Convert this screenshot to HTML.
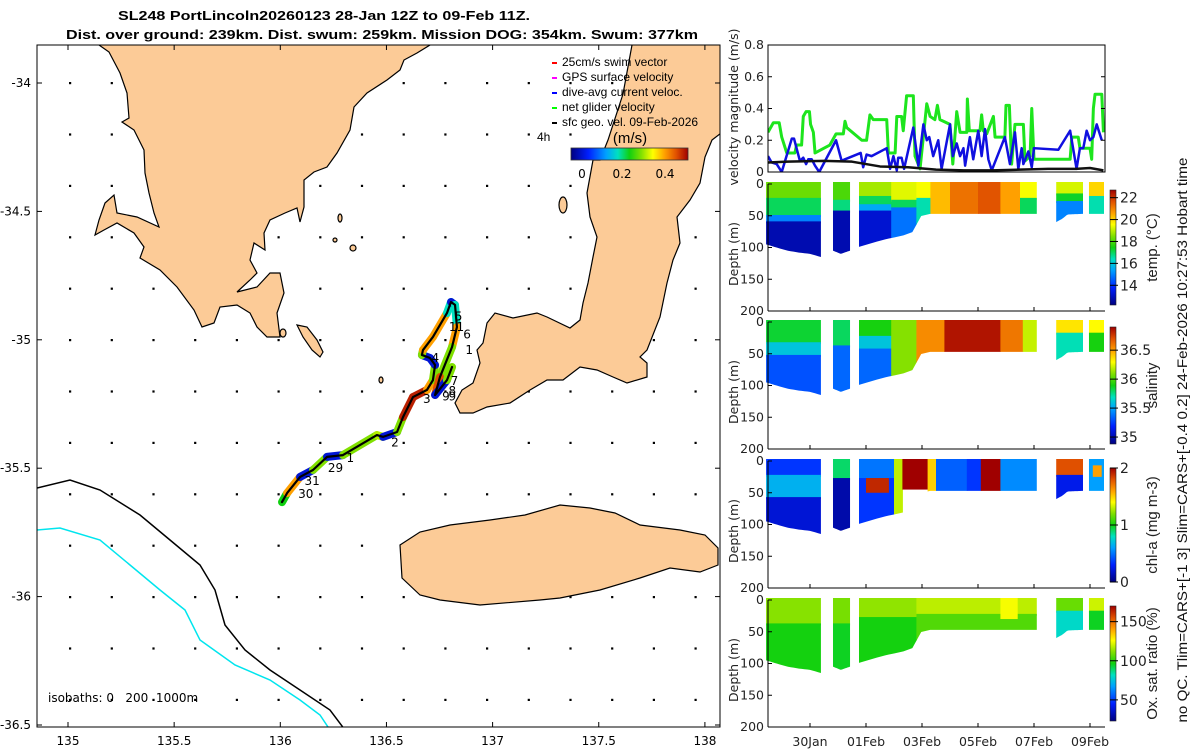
<!DOCTYPE html>
<html><head><meta charset="utf-8"><style>
html,body{margin:0;padding:0;background:#fff}
svg{display:block;font-family:"DejaVu Sans","Liberation Sans",sans-serif}
</style></head><body>
<svg id="fig" width="1200" height="750" viewBox="0 0 1200 750" xmlns="http://www.w3.org/2000/svg">
<g font-family="Liberation Sans, sans-serif" font-weight="bold" font-size="13" text-anchor="middle">
<text x="324" y="20" textLength="412" lengthAdjust="spacingAndGlyphs">SL248 PortLincoln20260123 28-Jan 12Z to 09-Feb 11Z.</text>
<text x="382" y="39" textLength="632" lengthAdjust="spacingAndGlyphs">Dist. over ground: 239km. Dist. swum: 259km. Mission DOG: 354km. Swum: 377km</text>
</g>
<defs id="defs"></defs>
<g id="map"></g>
<g id="right"></g>
</svg>
<script>
// ---------- data ----------
const greenT=[28.50,28.69,28.90,28.99,29.17,29.46,29.52,29.70,29.76,29.86,29.98,30.02,30.12,30.18,30.71,30.93,31.19,31.25,31.31,31.85,32.02,32.14,32.26,32.74,32.80,33.04,33.10,33.27,33.33,33.45,33.69,33.75,33.93,34.17,34.29,34.46,34.55,34.64,35.00,35.10,35.24,35.36,35.60,35.62,35.69,36.07,36.13,36.19,36.31,36.55,36.61,36.96,37.00,37.12,37.20,37.32,37.62,37.68,37.86,37.92,38.00,39.29,39.35,39.58,39.64,40.00,40.06,40.12,40.18,40.42,40.48];
const greenV=[0.25,0.31,0.31,0.22,0.12,0.12,0.17,0.17,0.35,0.38,0.38,0.30,0.25,0.12,0.17,0.24,0.24,0.32,0.28,0.20,0.20,0.36,0.33,0.33,0.12,0.12,0.35,0.35,0.26,0.48,0.48,0.10,0.02,0.43,0.35,0.33,0.42,0.33,0.30,0.05,0.38,0.25,0.25,0.46,0.26,0.26,0.36,0.26,0.24,0.35,0.22,0.22,0.42,0.42,0.05,0.30,0.30,0.07,0.10,0.40,0.08,0.08,0.22,0.22,0.15,0.15,0.08,0.40,0.49,0.49,0.25];
const blueT=[28.50,28.63,28.81,28.99,29.35,29.43,29.64,29.76,29.86,29.94,30.06,30.18,30.33,30.93,31.13,31.25,31.81,31.90,32.02,32.20,32.74,32.86,32.98,33.10,33.15,33.27,33.36,33.69,33.87,34.05,34.17,34.26,34.40,34.58,34.70,35.00,35.10,35.24,35.36,35.48,35.54,35.71,35.83,36.01,36.13,36.25,36.37,36.49,36.96,37.14,37.32,37.44,37.56,37.62,37.80,37.92,38.00,38.87,39.29,39.52,39.64,39.76,39.88,40.00,40.12,40.24,40.42];
const blueV=[0.10,0.06,0.05,0.00,0.21,0.21,0.07,0.09,0.05,0.08,0.08,0.04,0.00,0.20,0.07,0.08,0.12,0.03,0.11,0.10,0.15,0.02,0.10,0.01,0.09,0.09,0.02,0.28,0.04,0.30,0.20,0.22,0.10,0.20,0.02,0.30,0.10,0.18,0.10,0.15,0.04,0.22,0.08,0.26,0.10,0.27,0.08,0.01,0.22,0.05,0.25,0.02,0.15,0.05,0.13,0.03,0.15,0.14,0.26,0.02,0.15,0.15,0.26,0.20,0.22,0.30,0.20];
const blackT=[28.5,29.2,30.5,31.5,32.0,32.5,33.5,34.5,35.5,36.5,37.5,38.5,39.5,40.0,40.48];
const blackV=[0.060,0.065,0.070,0.065,0.050,0.035,0.030,0.015,0.010,0.010,0.015,0.020,0.020,0.025,0.010];
const velTicks=[0,0.2,0.4,0.6,0.8];
const dateTicks=[30,32,34,36,38,40];
const dateLabels=["30Jan","01Feb","03Feb","05Feb","07Feb","09Feb"];
const depthTicks=[0,50,100,150,200];
const segments=[[28.43,30.39],[30.82,31.43],[31.75,38.1],[38.79,39.75],[39.96,40.5]];
const bottomT=[28.43,28.8,29.2,29.6,30.0,30.39, 30.82,31.1,31.43, 31.75,32.6,33.64,33.82,34.29,38.1, 38.79,39.0,39.2,39.75, 39.96,40.5];
const bottomZ=[95,100,105,108,110,115, 105,110,105, 99,88,78,52,47,47, 60,55,48,47, 47,47];
const tempBlocks=[[28.43,30.39,0,25,18.3],[28.43,30.39,25,52,17],[28.43,30.39,52,62,15],[28.43,30.39,62,999,12.8],
[30.82,31.43,0,28,18],[30.82,31.43,28,45,16.8],[30.82,31.43,45,999,12.8],
[31.75,32.9,0,22,18.8],[31.75,32.9,22,35,17],[31.75,32.9,35,45,15.5],[31.75,32.9,45,999,13.2],
[32.9,33.8,0,28,19.3],[32.9,33.8,28,40,17],[32.9,33.8,40,999,14.8],
[33.8,34.3,0,25,19.5],[33.8,34.3,25,999,16.5],[34.3,35.0,0,999,20.3],[35.0,36.0,0,999,21.2],[36.0,36.8,0,999,21.6],
[36.8,37.5,0,999,20.6],[37.5,38.1,0,25,19.5],[37.5,38.1,25,999,17],
[38.79,39.75,0,18,19.2],[38.79,39.75,18,30,17.3],[38.79,39.75,30,999,15],
[39.96,40.5,0,22,20],[39.96,40.5,22,999,16.5]];
const salBlocks=[[28.43,30.39,0,35,35.85],[28.43,30.39,35,55,35.6],[28.43,30.39,55,999,35.3],
[30.82,31.43,0,40,35.8],[30.82,31.43,40,999,35.35],
[31.75,32.9,0,25,35.9],[31.75,32.9,25,45,35.6],[31.75,32.9,45,999,35.35],
[32.9,33.8,0,999,36.1],[33.8,34.8,0,999,36.55],[34.8,36.8,0,999,36.85],[36.8,37.6,0,999,36.6],[37.6,38.1,0,999,36.2],
[38.79,39.75,0,20,36.35],[38.79,39.75,20,999,35.7],[39.96,40.5,0,20,36.3],[39.96,40.5,20,999,35.9]];
const chlBlocks=[[28.43,30.39,0,25,0.35],[28.43,30.39,25,60,0.65],[28.43,30.39,60,999,0.2],
[30.82,31.43,0,30,0.9],[30.82,31.43,30,999,0.1],
[31.75,33.0,0,30,0.5],[31.75,33.0,30,999,0.35],[32.0,32.8,30,50,1.9],
[33.0,33.3,0,999,1.3],[33.3,34.2,0,45,2.0],[34.2,34.5,0,999,1.5],[34.5,35.6,0,999,0.45],[35.6,36.1,0,999,0.35],
[36.1,36.8,0,999,2.0],[36.8,38.1,0,999,0.55],
[38.79,39.75,0,25,1.8],[38.79,39.75,25,999,0.25],[39.96,40.5,0,999,0.6],[40.1,40.4,10,25,1.6]];
const oxBlocks=[[28.43,30.39,0,40,112],[28.43,30.39,40,999,97],[30.82,31.43,0,40,110],[30.82,31.43,40,999,95],
[31.75,33.8,0,30,113],[31.75,33.8,30,999,97],[33.8,38.1,0,25,118],[33.8,38.1,25,999,105],[36.8,37.4,0,30,125],
[38.79,39.75,0,20,108],[38.79,39.75,20,999,80],[39.96,40.5,0,20,120],[39.96,40.5,20,999,95]];
const tempTicks=[14,16,18,20,22];
const salTicks=[35,35.5,36,36.5];
const chlTicks=[0,1,2];
const oxTicks=[50,100,150];
const trackLon=[136.008,136.032,136.093,136.154,136.220,136.295,136.455,136.484,136.550,136.578,136.625,136.691,136.719,136.729,136.705,136.667,136.672,136.719,136.785,136.804,136.823,136.832,136.809,136.752,136.729,136.785,136.809];
const trackLat=[-35.632,-35.597,-35.534,-35.507,-35.456,-35.449,-35.371,-35.378,-35.359,-35.301,-35.223,-35.195,-35.157,-35.098,-35.071,-35.059,-35.040,-34.989,-34.896,-34.853,-34.864,-34.950,-35.028,-35.145,-35.215,-35.157,-35.106];
const trackSpd=[0.25,0.4,0.05,0.3,0.05,0.3,0.32,0.05,0.3,0.48,0.48,0.4,0.3,0.05,0.05,0.3,0.4,0.4,0.2,0.05,0.2,0.4,0.3,0.45,0.05,0.3,0.2];
const dayLabels=["30","31","29","1","2","3","4","5","11","6","1","7","8","9","9"];
const dayLon=[136.12,136.15,136.26,136.33,136.54,136.69,136.73,136.84,136.83,136.88,136.89,136.82,136.81,136.78,136.81];
const dayLat=[-35.60,-35.55,-35.50,-35.46,-35.40,-35.23,-35.07,-34.91,-34.95,-34.98,-35.04,-35.16,-35.20,-35.22,-35.22];
const lonTicks=[135,135.5,136,136.5,137,137.5,138];
const latTicks=[-34,-34.5,-35,-35.5,-36,-36.5];

// ---------- helpers ----------
const NS="http://www.w3.org/2000/svg";
function mk(tag,attrs,parent){const e=document.createElementNS(NS,tag);for(const k in attrs)e.setAttribute(k,attrs[k]);if(parent)parent.appendChild(e);return e;}
const cmapS=[0,0.15,0.3,0.4,0.5,0.6,0.7,0.8,0.9,1];
const cmapC=[[0,0,128],[0,32,255],[0,160,255],[0,224,192],[16,208,16],[128,224,0],[255,255,0],[255,160,0],[224,80,0],[160,0,0]];
function jet(v){v=Math.max(0,Math.min(1,v));let i=0;while(i<cmapS.length-2&&v>cmapS[i+1])i++;
 const f=(v-cmapS[i])/(cmapS[i+1]-cmapS[i]);const a=cmapC[i],b=cmapC[i+1];
 return `rgb(${Math.round(a[0]+(b[0]-a[0])*f)},${Math.round(a[1]+(b[1]-a[1])*f)},${Math.round(a[2]+(b[2]-a[2])*f)})`;}
const svg=document.getElementById('fig');
const defs=document.getElementById('defs');

// ---------- map ----------
const map=document.getElementById('map');
const ML=37,MR=720,MT=45,MB=727;
const lonX=lon=>68+(lon-135)*212.3;
const latY=lat=>83+(-34-lat)*256.8;
mk('clipPath',{id:'mapclip'},defs).appendChild(mk('rect',{x:ML,y:MT,width:MR-ML,height:MB-MT}));
const mg=mk('g',{'clip-path':'url(#mapclip)'},map);

const dotsG=mk('g',{fill:'#000'},mg);

for(let y=83;y<=730;y+=51.4)for(let x=70;x<=722;x+=41.7){mk('rect',{x:x-1,y:y-1,width:2.2,height:2.2},dotsG);}
const iso1=mk('path',{d:'M37,488 L70,480 L100,490 L140,515 L170,540 L200,565 L215,590 L225,625 L245,650 L270,670 L300,690 L330,710 L345,730',fill:'none',stroke:'#000','stroke-width':1.5},mg);

const iso2=mk('path',{d:'M37,530 L60,528 L100,540 L130,565 L160,590 L185,610 L200,640 L235,665 L270,680 L300,700 L320,715 L330,730',fill:'none',stroke:'#00e5ee','stroke-width':1.5},mg);

const landStyle={fill:'#fccb97',stroke:'#000','stroke-width':1.2};
const eyre="99,45 109,52 120,73 127,93 129,118 122,122 134,130 144,150 145,173 149,193 154,213 159,227 137,217 117,213 114,195 105,203 99,220 95,235 104,230 117,223 134,233 144,247 140,258 160,270 177,287 194,310 202,327 214,323 220,307 237,305 250,313 257,327 267,337 280,337 277,313 284,293 280,273 270,273 257,287 237,292 250,280 257,273 250,260 254,243 265,250 264,233 270,220 285,213 297,208 300,222 304,207 304,180 314,172 327,167 337,153 350,130 354,107 367,93 387,80 400,70 404,60 417,53 430,45 430,40 99,40";
const e1=mk('polygon',Object.assign({points:eyre},landStyle),mg);

const thistle=mk('polygon',Object.assign({points:'297,325 307,327 317,340 323,352 320,357 312,350 303,337'},landStyle),mg);

const yorke="632,40 632,45 623,94 608,140 600,160 593,160 587,193 590,217 597,237 593,257 588,283 583,303 580,320 570,328 547,317 537,313 513,318 495,313 487,323 483,343 477,350 480,363 473,383 462,390 455,403 460,413 473,413 487,407 510,403 530,390 547,380 563,380 580,367 597,370 613,377 627,383 647,377 647,363 640,357 647,350 660,317 667,283 673,260 680,243 677,217 690,200 700,183 705,157 712,140 725,130 725,40";
const y1=mk('polygon',Object.assign({points:yorke},landStyle),mg);

const ki="400,545 420,532 450,525 490,520 525,515 560,505 590,508 615,513 640,525 680,530 705,535 718,548 718,565 700,572 670,568 640,578 600,590 560,598 540,600 480,605 440,600 420,595 402,578";
const k1=mk('polygon',Object.assign({points:ki},landStyle),mg);

const isl=mk('g',{},mg);
[[563,205,4,8],[340,218,2,4],[283,333,3,4],[381,380,2,3],[353,248,3,3],[335,240,2,2]].forEach(p=>mk('ellipse',Object.assign({cx:p[0],cy:p[1],rx:p[2],ry:p[3]},landStyle),isl));
const trG=mk('g',{'stroke-linecap':'round','stroke-linejoin':'round',fill:'none'},mg);

for(let i=0;i<trackLon.length-1;i++){
 const s=mk('line',{x1:lonX(trackLon[i]),y1:latY(trackLat[i]),x2:lonX(trackLon[i+1]),y2:latY(trackLat[i+1]),stroke:jet(trackSpd[i]/0.5),'stroke-width':8},trG);
 }
const trLine=mk('polyline',{points:trackLon.map((l,i)=>lonX(l)+','+latY(trackLat[i])).join(' '),stroke:'#000','stroke-width':2.2},trG);

const dl=mk('g',{'font-size':12,fill:'#000','font-family':'DejaVu Sans, sans-serif'},mg);

dayLabels.forEach((t,i)=>{const e=mk('text',{x:lonX(dayLon[i]),y:latY(dayLat[i])+4,'text-anchor':'middle'},dl);e.textContent=t;
 });
const ax=mk('g',{stroke:'#000','stroke-width':1,fill:'none'},map);

mk('rect',{x:ML,y:MT,width:MR-ML,height:MB-MT},ax);
const tl=mk('g',{'font-size':12,fill:'#000','font-family':'DejaVu Sans, sans-serif'},map);

lonTicks.forEach(v=>{const x=lonX(v);mk('line',{x1:x,y1:MB,x2:x,y2:MB-5},ax);mk('line',{x1:x,y1:MT,x2:x,y2:MT+5},ax);
 const t=mk('text',{x:x,y:745,'text-anchor':'middle'},tl);t.textContent=String(v);
 });
latTicks.forEach(v=>{const y=latY(v);mk('line',{x1:ML,y1:y,x2:ML+5,y2:y},ax);mk('line',{x1:MR,y1:y,x2:MR-5,y2:y},ax);
 const t=mk('text',{x:31,y:y+4,'text-anchor':'end'},tl);t.textContent=String(v);
 });
const isoT=mk('text',{x:48,y:702,'font-size':12},tl);isoT.textContent='isobaths:\u00a00\u00a0\u00a0\u00a0200\u00a0\u00a01000m';

const lg=mk('g',{'font-size':12,'font-family':'Liberation Sans, sans-serif',fill:'#000'},map);

const legItems=[['25cm/s swim vector','#f00'],['GPS surface velocity','#f0f'],['dive-avg current veloc.','#00f'],['net glider velocity','#0f0'],['sfc geo. vel. 09-Feb-2026','#000']];
legItems.forEach((it,i)=>{const y=62+i*15;mk('rect',{x:552,y:y,width:5,height:2,fill:it[1]},lg);
 const t=mk('text',{x:562,y:y+4},lg);t.textContent=it[0];});
const t4=mk('text',{x:537,y:141},lg);t4.textContent='4h';
const tms=mk('text',{x:630,y:143,'font-size':15,'text-anchor':'middle'},lg);tms.textContent='(m/s)';
const sg=mk('linearGradient',{id:'jetH',x1:0,x2:1,y1:0,y2:0},defs);
for(let i=0;i<=20;i++)mk('stop',{offset:i/20,'stop-color':jet(i/20)},sg);
const scb=mk('rect',{x:571,y:148,width:117,height:12,fill:'url(#jetH)',stroke:'#333','stroke-width':0.8},lg);

[[0,582],[0.2,622],[0.4,665]].forEach(p=>{const t=mk('text',{x:p[1],y:178,'text-anchor':'middle','font-family':'DejaVu Sans, sans-serif'},lg);t.textContent=String(p[0]);
 });

// ---------- right panels ----------
const R=document.getElementById('right');
const PL=768,PR=1105;
const tX=d=>810+(d-30)*28;
const VT=45,VB=172;
const vY=v=>VB-(v/0.8)*(VB-VT);
const vp=mk('g',{},R);
mk('clipPath',{id:'vclip'},defs).appendChild(mk('rect',{x:PL,y:VT,width:PR-PL,height:VB-VT}));
const vl=mk('g',{'clip-path':'url(#vclip)',fill:'none','stroke-linejoin':'round'},vp);
function series(T,V,col,w,name){const p=mk('polyline',{points:T.map((t,i)=>tX(t)+','+vY(V[i])).join(' '),stroke:col,'stroke-width':w},vl);
 }
series(greenT,greenV,'#1de51d',3,'net-glider-velocity-line');
series(blueT,blueV,'#1010e0',2.5,'dive-avg-current-line');
series(blackT,blackV,'#111',2.5,'sfc-geo-velocity-line');
const va=mk('g',{stroke:'#000',fill:'none'},vp);
mk('rect',{x:PL,y:VT,width:PR-PL,height:VB-VT},va);
const vtl=mk('g',{'font-size':12.5,fill:'#222'},vp);
velTicks.forEach(v=>{const y=vY(v);mk('line',{x1:PL,y1:y,x2:PL+4,y2:y},va);mk('line',{x1:PR,y1:y,x2:PR-4,y2:y},va);
 const t=mk('text',{x:764,y:y+4,'text-anchor':'end'},vtl);t.textContent=String(v);
 });
const vyl=mk('text',{x:0,y:0,'font-size':12.5,fill:'#222','text-anchor':'middle',transform:'translate(738,107) rotate(-90)'},vp);
vyl.textContent='velocity magnitude (m/s)';

function interpBottom(t){for(let i=0;i<bottomT.length-1;i++){if(t>=bottomT[i]&&t<=bottomT[i+1]&&bottomT[i+1]>bottomT[i])return bottomZ[i]+(bottomZ[i+1]-bottomZ[i])*(t-bottomT[i])/(bottomT[i+1]-bottomT[i]);}return 47;}
const panels=[
 {top:184,blocks:tempBlocks,vmin:12.2,vmax:22.7,cbT:190,cbB:305,ticks:tempTicks,title:'temp. (°C)',name:'temperature'},
 {top:322,blocks:salBlocks,vmin:34.88,vmax:36.9,cbT:327,cbB:444,ticks:salTicks,title:'salinity',name:'salinity'},
 {top:461,blocks:chlBlocks,vmin:0,vmax:2,cbT:468,cbB:582,ticks:chlTicks,title:'chl-a (mg m-3)',name:'chlorophyll'},
 {top:600,blocks:oxBlocks,vmin:23,vmax:170,cbT:606,cbB:721,ticks:oxTicks,title:'Ox. sat. ratio (%)',name:'oxygen'}];
const vg=mk('linearGradient',{id:'jetV',x1:0,x2:0,y1:1,y2:0},defs);
for(let i=0;i<=20;i++)mk('stop',{offset:i/20,'stop-color':jet(i/20)},vg);
panels.forEach((P,pi)=>{
 const H=127;const zY=z=>P.top+z/200*H;
 const g=mk('g',{},R);
 let d='';segments.forEach(s=>{d+=`M${tX(s[0])},${zY(0)-2} L${tX(s[1])},${zY(0)-2} `;
   const n=20;for(let k=n;k>=0;k--){const t=s[0]+(s[1]-s[0])*k/n;d+=`L${tX(t)},${zY(interpBottom(t))} `;}d+='Z ';});
 const cp=mk('clipPath',{id:'sc'+pi},defs);mk('path',{d:d},cp);
 const cg=mk('g',{'clip-path':`url(#sc${pi})`},g);
 P.blocks.forEach(b=>{const z1=Math.min(b[3],200);
  const r=mk('rect',{x:tX(b[0]),y:zY(b[2])-2,width:tX(b[1])-tX(b[0])+0.5,height:zY(z1)-zY(b[2])+2,fill:jet((b[4]-P.vmin)/(P.vmax-P.vmin))},cg);
  });
 const a=mk('g',{stroke:'#000',fill:'none'},g);
 mk('line',{x1:PL,y1:P.top,x2:PL,y2:P.top+H},a);mk('line',{x1:PL,y1:P.top+H,x2:PR,y2:P.top+H},a);
 const tg=mk('g',{'font-size':12.5,fill:'#222'},g);
 depthTicks.forEach(z=>{const y=zY(z);mk('line',{x1:PL,y1:y,x2:PL+4,y2:y},a);
  const t=mk('text',{x:764,y:y+4,'text-anchor':'end'},tg);t.textContent=String(z);
  });
 dateTicks.forEach(dt=>{mk('line',{x1:tX(dt),y1:P.top+H,x2:tX(dt),y2:P.top+H-4},a);});
 const yl=mk('text',{x:0,y:0,'font-size':12.5,fill:'#222','text-anchor':'middle',transform:`translate(738,${P.top+70}) rotate(-90)`},g);
 yl.textContent='Depth (m)';
 const cb=mk('rect',{x:1110,y:P.cbT,width:6,height:P.cbB-P.cbT,fill:'url(#jetV)',stroke:'#222','stroke-width':0.6},g);
 
 P.ticks.forEach(v=>{const y=P.cbB-(v-P.vmin)/(P.vmax-P.vmin)*(P.cbB-P.cbT);
  mk('line',{x1:1110,y1:y,x2:1118,y2:y,stroke:'#000'},g);
  const t=mk('text',{x:1120,y:y+5,'font-size':14,fill:'#222'},g);t.textContent=String(v);
  });
 const ct=mk('text',{x:0,y:0,'font-size':15,fill:'#222','text-anchor':'middle','font-family':'Liberation Sans, sans-serif',transform:`translate(1157,${(P.cbT+P.cbB)/2}) rotate(-90)`},g);
 ct.textContent=P.title;
});
const dg=mk('g',{'font-size':12.5,fill:'#222','text-anchor':'middle'},R);

dateTicks.forEach((dt,i)=>{const t=mk('text',{x:tX(dt),y:746},dg);t.textContent=dateLabels[i];
 });
const note=mk('text',{x:0,y:0,'font-size':14,fill:'#111','text-anchor':'middle','font-family':'Liberation Sans, sans-serif',textLength:565,lengthAdjust:'spacingAndGlyphs',transform:'translate(1187,440) rotate(-90)'},R);
note.textContent='no QC. Tlim=CARS+[-1 3] Slim=CARS+[-0.4 0.2] 24-Feb-2026 10:27:53 Hobart time';

</script>
</body></html>
